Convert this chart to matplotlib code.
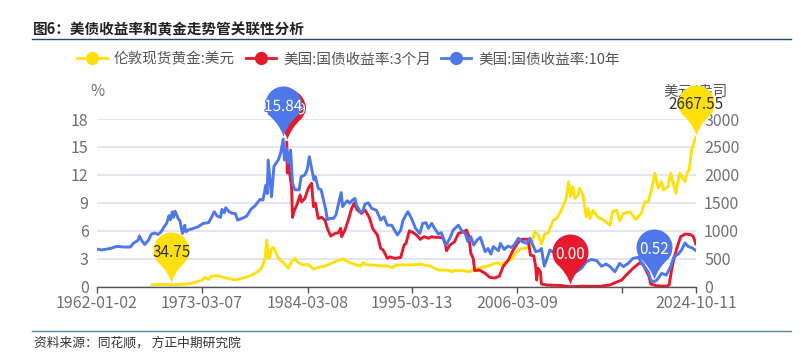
import numpy as np
import matplotlib
matplotlib.use("Agg")
import matplotlib.pyplot as plt
from matplotlib.path import Path
from matplotlib.lines import Line2D
import matplotlib.patheffects as pe

plt.rcParams['font.family'] = ['Noto Sans CJK SC', 'DejaVu Sans']

title = "图6：美债收益率和黄金走势管关联性分析"
source = "资料来源：同花顺， 方正中期研究院"
names = ["伦敦现货黄金:美元", "美国:国债收益率:3个月", "美国:国债收益率:10年"]

tick_years = [1962.0, 1973.0, 1984.09, 1995.02, 2006.03, 2017.1, 2024.78]
tick_labels = ["1962-01-02", "1973-03-07", "1984-03-08", "1995-03-13", "2006-03-09", "", "2024-10-11"]
left_ticks = [0, 3, 6, 9, 12, 15, 18]
right_ticks = [0, 500, 1000, 1500, 2000, 2500, 3000]

gold_years = [1967.8, 1968.5, 1969.0, 1969.8, 1970.5, 1971.2, 1971.9, 1972.45, 1973.0, 1973.3, 1973.7, 1974.0,
              1974.65, 1975.25, 1975.8, 1976.4, 1977.0, 1977.7, 1978.2, 1978.55, 1979.1, 1979.4, 1979.65, 1979.8,
              1979.95, 1980.1, 1980.3, 1980.55, 1980.85, 1981.2, 1981.5, 1982.05, 1982.4, 1982.75, 1983.1, 1983.6,
              1984.15, 1984.7, 1985.2, 1985.9, 1986.4, 1987.2, 1987.8, 1988.5, 1989.2, 1989.65, 1989.9, 1990.25,
              1990.95, 1991.85, 1992.55, 1992.9, 1993.4, 1994.8, 1996.0, 1996.9, 1997.8, 1998.65, 1999.3, 1999.5,
              2000.4, 2001.1, 2001.6, 2002.3, 2003.0, 2003.9, 2004.4, 2005.0, 2005.5, 2006.0, 2006.35, 2007.2,
              2007.7, 2007.9, 2008.3, 2008.6, 2008.95, 2009.3, 2009.85, 2010.2, 2010.7, 2011.2, 2011.45, 2011.65,
              2011.9, 2012.1, 2012.45, 2012.6, 2012.95, 2013.3, 2013.5, 2013.7, 2014.0, 2014.55, 2015.05, 2015.8,
              2016.05, 2016.5, 2016.8, 2017.2, 2017.9, 2018.5, 2019.1, 2019.45, 2019.8, 2020.15, 2020.5, 2020.85,
              2021.2, 2021.4, 2021.9, 2022.15, 2022.7, 2023.1, 2023.65, 2023.9, 2024.1, 2024.35, 2024.78]
gold_values = [35, 40, 42, 34.75, 38, 45, 60, 85, 115, 165, 130, 190,
               195, 170, 150, 120, 140, 175, 205, 240, 300, 390, 540, 835,
               505, 510, 685, 700, 565, 475, 445, 330, 445, 505, 430, 390,
               400, 315, 345, 370, 405, 465, 495, 430, 390, 370, 430, 390,
               388, 370, 370, 340, 388, 390, 400, 370, 300, 295, 270, 295,
               285, 268, 310, 345, 370, 430, 400, 460, 490, 625, 670, 700,
               835, 985, 925, 765, 940, 965, 1190, 1220, 1370, 1580, 1880, 1610,
               1790, 1580, 1640, 1760, 1640, 1250, 1400, 1220, 1370, 1240, 1200, 1100,
               1340, 1370, 1180, 1310, 1340, 1200, 1320, 1520, 1520, 1730, 2030, 1760,
               1880, 1730, 1790, 2030, 1670, 2030, 1880, 2040, 2090, 2445, 2667.55]

bill_years = [1981.9, 1981.95, 1982.1, 1982.2, 1982.4, 1982.5, 1982.7, 1982.95, 1983.3, 1983.45, 1983.8, 1984.15,
              1984.5, 1984.7, 1984.9, 1985.2, 1985.55, 1985.9, 1986.15, 1986.5, 1986.95, 1987.3, 1987.55, 1987.65,
              1988.0, 1988.35, 1988.7, 1988.95, 1989.3, 1989.75, 1990.1, 1990.55, 1990.9, 1991.4, 1991.75, 1992.0,
              1992.45, 1992.7, 1993.25, 1993.85, 1994.2, 1994.4, 1994.75, 1995.15, 1995.5, 1995.9, 1996.3, 1996.75,
              1997.1, 1997.4, 1997.95, 1998.3, 1998.55, 1998.65, 1999.0, 1999.5, 1999.9, 2000.4, 2000.75, 2001.0,
              2001.2, 2001.45, 2001.6, 2002.1, 2002.7, 2003.2, 2003.7, 2004.2, 2004.6, 2005.1, 2005.65, 2006.2,
              2006.6, 2007.2, 2007.45, 2007.8, 2008.0, 2008.1, 2008.25, 2008.5, 2008.6, 2009.15, 2010.0, 2010.55,
              2011.6, 2013.0, 2014.7, 2015.8, 2016.5, 2017.0, 2017.5, 2018.2, 2018.9, 2019.25, 2019.55, 2019.9,
              2020.05, 2020.7, 2021.7, 2022.0, 2022.25, 2022.5, 2022.85, 2023.2, 2023.65, 2024.2, 2024.5, 2024.72, 2024.78]
bill_values = [15.49, 12.2, 13.6, 12.2, 10.7, 7.44, 8.2, 8.77, 9.84, 9.1, 9.48, 10.55,
               11.1, 8.6, 8.95, 7.33, 7.44, 7.15, 6.26, 5.44, 5.72, 5.8, 6.26, 5.37,
               6.08, 7.15, 8.4, 8.95, 8.23, 7.87, 8.23, 7.44, 6.26, 5.55, 4.1, 3.94,
               3.04, 3.2, 3.04, 3.15, 4.47, 4.65, 6.0, 5.8, 5.55, 5.08, 5.37, 5.2,
               5.37, 5.3, 5.3, 5.2, 4.47, 3.86, 4.47, 4.83, 5.72, 5.9, 6.08, 5.37,
               3.58, 3.04, 1.72, 1.79, 1.43, 1.0, 0.93, 1.14, 2.2, 2.8, 3.94, 4.83,
               5.1, 5.08, 3.4, 3.3, 2.15, 0.72, 1.97, 1.6, 0.29, 0.18, 0.15, 0.14,
               0.0, 0.05, 0.03, 0.2, 0.5, 0.7, 1.25, 1.97, 2.55, 2.43, 1.8, 1.07,
               0.29, 0.1, 0.05, 0.2, 1.8, 3.0, 4.3, 5.37, 5.65, 5.6, 5.44, 4.83, 4.6]

note_years = [1962.0, 1962.5, 1962.8, 1963.4, 1964.1, 1964.8, 1965.5, 1965.8, 1966.2, 1966.3, 1966.45, 1966.7,
              1967.0, 1967.4, 1967.7, 1968.1, 1968.4, 1968.7, 1969.0, 1969.3, 1969.55, 1969.7, 1969.9, 1970.0,
              1970.2, 1970.5, 1970.7, 1970.95, 1971.2, 1971.3, 1971.6, 1972.1, 1972.6, 1973.15, 1973.7, 1974.0,
              1974.3, 1974.6, 1974.95, 1975.1, 1975.35, 1975.5, 1975.85, 1976.2, 1976.5, 1976.75, 1977.2, 1977.7,
              1978.15, 1978.55, 1979.1, 1979.4, 1979.7, 1979.85, 1979.95, 1980.3, 1980.55, 1981.0, 1981.25, 1981.53,
              1981.65, 1981.9, 1982.05, 1982.3, 1982.5, 1982.75, 1983.2, 1983.4, 1983.8, 1984.05, 1984.26, 1984.5,
              1984.75, 1984.9, 1985.2, 1985.5, 1985.7, 1986.0, 1986.15, 1986.4, 1986.8, 1987.05, 1987.3, 1987.6,
              1987.75, 1988.0, 1988.25, 1988.5, 1988.8, 1989.05, 1989.2, 1989.6, 1989.85, 1990.1, 1990.45, 1990.8,
              1991.3, 1991.75, 1992.1, 1992.45, 1992.9, 1993.5, 1993.85, 1994.1, 1994.6, 1994.98, 1995.4, 1995.85,
              1996.15, 1996.5, 1996.75, 1997.1, 1997.4, 1997.8, 1998.1, 1998.6, 1999.0, 1999.35, 1999.9, 2000.2,
              2000.6, 2000.9, 2001.2, 2001.5, 2001.85, 2002.2, 2002.7, 2003.0, 2003.3, 2003.55, 2004.1, 2004.3,
              2004.7, 2005.1, 2005.5, 2005.8, 2006.2, 2006.6, 2007.05, 2007.4, 2007.7, 2008.0, 2008.4, 2008.6,
              2008.9, 2009.2, 2009.5, 2010.0, 2011.0, 2012.1, 2012.8, 2013.3, 2013.85, 2014.4, 2014.9, 2015.4,
              2015.8, 2016.3, 2016.8, 2017.2, 2017.7, 2018.2, 2018.75, 2019.25, 2019.8, 2020.05, 2020.4, 2020.7,
              2021.2, 2021.7, 2022.15, 2022.5, 2022.95, 2023.3, 2023.65, 2024.0, 2024.35, 2024.78]
note_values = [4.04, 3.94, 4.0, 4.11, 4.33, 4.26, 4.26, 4.65, 4.9, 4.97, 5.44, 4.94,
               4.54, 5.0, 5.65, 5.76, 5.6, 5.87, 6.37, 6.8, 7.62, 7.2, 8.05, 7.44,
               8.1, 7.33, 7.08, 5.72, 6.6, 5.9, 6.1, 6.26, 6.44, 6.8, 6.87, 7.44,
               8.05, 7.58, 7.44, 8.3, 7.94, 8.48, 8.05, 7.87, 7.87, 7.15, 7.33, 7.58,
               8.33, 8.66, 9.37, 9.3, 10.9, 10.0, 13.6, 9.66, 12.9, 13.6, 14.3, 15.84,
               13.6, 14.85, 13.24, 14.67, 11.1, 10.4, 10.4, 11.8, 12.0, 12.6, 13.95, 12.7,
               11.45, 11.8, 10.55, 10.4, 9.5, 8.2, 7.2, 7.33, 7.33, 7.7, 8.77, 10.1,
               8.6, 8.95, 9.23, 8.95, 9.3, 9.48, 8.77, 8.05, 8.05, 8.87, 9.0, 8.4,
               8.2, 7.15, 7.5, 6.6, 6.6, 5.55, 6.08, 7.15, 8.05, 7.33, 6.26, 5.72,
               6.8, 6.87, 6.26, 6.8, 6.26, 5.65, 5.8, 4.47, 5.2, 6.08, 6.6, 6.08,
               5.72, 4.83, 5.37, 4.47, 5.0, 5.3, 3.76, 4.1, 3.5, 4.3, 3.86, 4.65,
               4.0, 4.36, 4.2, 4.58, 5.2, 4.83, 4.65, 5.2, 4.47, 3.76, 3.86, 4.1,
               2.2, 3.04, 3.94, 3.6, 3.4, 1.5, 1.97, 2.68, 2.93, 2.8, 2.2, 2.43,
               2.15, 1.6, 2.5, 2.15, 2.5, 3.04, 3.15, 2.33, 1.6, 0.72, 0.52, 0.7,
               1.43, 1.25, 2.15, 3.2, 3.5, 3.94, 4.7, 4.3, 4.2, 3.9]

GOLD = "#ffe00d"
RED = "#e6192d"
BLUE = "#4e78ea"
GRAY = "#6e7079"


def pin_path():
    # tip at the origin + small gap, circle above it, units are pixels
    gap, r, cy = 3.0, 18.0, 35.0
    a = np.radians(np.linspace(-38, 218, 60))
    xs = r * np.cos(a)
    ys = cy + r * np.sin(a)
    verts = list(zip(xs, ys))
    codes = [Path.MOVETO] + [Path.LINETO] * (len(verts) - 1)
    verts += [(-4.0, gap + 12), (0, gap), (4.0, gap + 12), (xs[0], ys[0])]
    codes += [Path.CURVE3, Path.CURVE3, Path.CURVE3, Path.CURVE3]
    return Path(verts, codes)


PIN = pin_path()
PIN_S = (2 * 53 * 0.72) ** 2


def pin(axis, xs, ys, value, color, label, label_color, z, outline=None):
    i = ys.index(value)
    axis.scatter([xs[i]], [value], marker=PIN, s=PIN_S, color=color, linewidths=0, zorder=z, clip_on=False)
    t = axis.annotate(label, (xs[i], value), xytext=(0, 23.5), textcoords="offset points", ha="center", va="center",
                      fontsize=11, color=label_color, zorder=z + 0.5, annotation_clip=False)
    if outline:
        t.set_path_effects([pe.withStroke(linewidth=1.5, foreground=outline)])


fig = plt.figure(figsize=(8.01, 3.61), dpi=100)
W, H = 801.0, 361.0
ax = fig.add_axes([97 / W, 1 - 286.7 / H, 598.7 / W, 167.7 / H])
ax2 = ax.twinx()
ax.set_zorder(1)
ax2.set_zorder(2)
ax2.patch.set_visible(False)

# gold goes on the right axis, yields on the left
ax.plot(gold_years, gold_values, color=GOLD, lw=2.1, solid_joinstyle="round")
ax2.plot(bill_years, bill_values, color=RED, lw=2.1, solid_joinstyle="round")
ax2.plot(note_years, note_values, color=BLUE, lw=2.1, solid_joinstyle="round")

ax.set_xlim(tick_years[0], tick_years[-1])
ax.set_ylim(0, 3000)
ax2.set_ylim(0, 18)
ax.yaxis.tick_right()
ax2.yaxis.tick_left()
ax.set_yticks(right_ticks)
ax2.set_yticks(left_ticks)
ax.set_xticks(tick_years)
ax.set_xticklabels(tick_labels)
ax.grid(axis="y", color="#e0e4ef", lw=1.3)
ax.set_axisbelow(True)
ax.tick_params(axis="x", length=4, width=1, color="#555555", labelcolor=GRAY, labelsize=11.5, pad=2)
ax.tick_params(axis="y", length=0, labelcolor=GRAY, labelsize=11.5, pad=6)
ax2.tick_params(axis="y", length=0, labelcolor=GRAY, labelsize=11.5, pad=6)
for a in (ax, ax2):
    for s in a.spines.values():
        s.set_visible(False)
ax.spines["bottom"].set_visible(True)
ax.spines["bottom"].set_color("#555555")
ax.spines["bottom"].set_linewidth(1.0)

fig.text(97 / W, 1 - 92 / H, "%", fontsize=11, color=GRAY, ha="center", va="center")
ax.text(695 / W, 1 - 91.5 / H, "美元/盎司", transform=fig.transFigure, fontsize=10.5, color="#555555",
        ha="center", va="center", zorder=0.5, clip_on=False)

pin(ax, gold_years, gold_values, 34.75, GOLD, "34.75", "#333333", 6)
pin(ax, gold_years, gold_values, 2667.55, GOLD, "2667.55", "#333333", 6)
pin(ax2, bill_years, bill_values, 15.49, RED, "15.49", "white", 6, outline=RED)
pin(ax2, bill_years, bill_values, 0.0, RED, "0.00", "white", 6)
pin(ax2, note_years, note_values, 15.84, BLUE, "15.84", "white", 8, outline=BLUE)
pin(ax2, note_years, note_values, 0.52, BLUE, "0.52", "white", 8)

handles = [Line2D([], [], color=c, lw=2, marker="o", ms=9.5, mew=0) for c in (GOLD, RED, BLUE)]
fig.legend(handles, names, loc="center left", bbox_to_anchor=(72.5 / W, 1 - 59.5 / H), ncol=3, frameon=False,
           fontsize=10.5, labelcolor="#555555", handlelength=2.05, handletextpad=0.5, columnspacing=0.72,
           borderpad=0.3, borderaxespad=0)

fig.text(33 / W, 1 - 29 / H, title, fontsize=10.5, fontweight="bold", color="#222222", ha="left", va="center")
fig.add_artist(Line2D([32 / W, 791 / W], [1 - 39 / H] * 2, color="#1b4a78", lw=1.0))
fig.add_artist(Line2D([32 / W, 791 / W], [1 - 331 / H] * 2, color="#5a88ae", lw=1.0))
fig.text(34 / W, 1 - 343 / H, source, fontsize=9.2, color="#333333", style="italic", ha="left", va="center")

fig.savefig("out.png", dpi=100)
